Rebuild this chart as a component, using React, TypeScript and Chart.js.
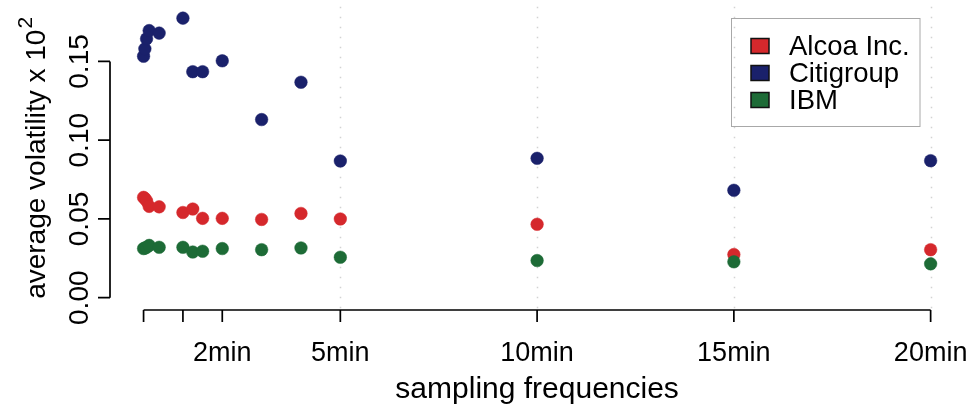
import React, { useEffect, useRef } from "react";
import { Chart, registerables } from "chart.js";

Chart.register(...registerables);

// sampling frequency in minutes
const xMinutes = [0, 0.033, 0.076, 0.142, 0.396, 1, 1.25, 1.5, 2, 3, 4, 5, 10, 15, 20];
const alcoa = [0.0637, 0.063, 0.0615, 0.058, 0.0577, 0.0541, 0.0563, 0.0504, 0.0504, 0.0497, 0.0535, 0.05, 0.0466, 0.0274, 0.0305];
const citigroup = [0.1533, 0.158, 0.1644, 0.1696, 0.168, 0.1775, 0.1435, 0.1435, 0.1504, 0.1131, 0.1368, 0.0868, 0.0885, 0.0682, 0.087];
const ibm = [0.0312, 0.0315, 0.032, 0.0332, 0.032, 0.032, 0.029, 0.0295, 0.0312, 0.0305, 0.0316, 0.0257, 0.0236, 0.0228, 0.0215];

const seriesNames = ["Alcoa Inc.", "Citigroup", "IBM"];
const seriesColors = ["#D5282C", "#1A216B", "#1D6B36"];

const xTickValues = [0, 1, 2, 5, 10, 15, 20];
const xTickLabels = ["", "", "2min", "5min", "10min", "15min", "20min"];
const yTickValues = [0, 0.05, 0.1, 0.15];
const yTickLabels = ["0.00", "0.05", "0.10", "0.15"];
const gridMinutes = [5, 10, 15, 20];

const xTitle = "sampling frequencies";
const yTitleMain = "average volatility x 10";
const yTitleSup = "2";

const FONT = '"Liberation Sans", Arial, Helvetica, sans-serif';

const rAxesPlugin = {
  id: "rAxes",
  beforeDatasetsDraw(chart: any) {
    const { ctx, chartArea } = chart;
    const xs = chart.scales.x;
    ctx.save();
    ctx.strokeStyle = "#d2d2d2";
    ctx.lineWidth = 1.5;
    ctx.setLineDash([1.5, 8.5]);
    for (const g of gridMinutes) {
      const px = Math.round(xs.getPixelForValue(g)) + 0.5;
      ctx.beginPath();
      ctx.moveTo(px, chartArea.top);
      ctx.lineTo(px, chartArea.bottom);
      ctx.stroke();
    }
    ctx.restore();
  },
  afterDraw(chart: any) {
    const { ctx, chartArea } = chart;
    const xs = chart.scales.x;
    const ys = chart.scales.y;
    ctx.save();
    ctx.strokeStyle = "#000";
    ctx.fillStyle = "#000";
    ctx.lineWidth = 1.7;
    ctx.setLineDash([]);

    // x axis
    const ay = chartArea.bottom;
    ctx.beginPath();
    ctx.moveTo(xs.getPixelForValue(xTickValues[0]), ay);
    ctx.lineTo(xs.getPixelForValue(xTickValues[xTickValues.length - 1]), ay);
    for (const v of xTickValues) {
      const px = xs.getPixelForValue(v);
      ctx.moveTo(px, ay);
      ctx.lineTo(px, ay + 12);
    }
    ctx.stroke();
    ctx.font = `27px ${FONT}`;
    ctx.textAlign = "center";
    ctx.textBaseline = "alphabetic";
    xTickValues.forEach((v, i) => {
      if (xTickLabels[i]) ctx.fillText(xTickLabels[i], xs.getPixelForValue(v), 361);
    });
    ctx.font = `30px ${FONT}`;
    ctx.fillText(xTitle, (chartArea.left + chartArea.right) / 2, 398);

    // y axis
    const ax = chartArea.left;
    ctx.beginPath();
    ctx.moveTo(ax, ys.getPixelForValue(yTickValues[0]));
    ctx.lineTo(ax, ys.getPixelForValue(yTickValues[yTickValues.length - 1]));
    for (const v of yTickValues) {
      const py = ys.getPixelForValue(v);
      ctx.moveTo(ax, py);
      ctx.lineTo(ax - 12, py);
    }
    ctx.stroke();
    ctx.font = `28px ${FONT}`;
    yTickValues.forEach((v, i) => {
      ctx.save();
      ctx.translate(88, ys.getPixelForValue(v));
      ctx.rotate(-Math.PI / 2);
      ctx.textAlign = "center";
      ctx.fillText(yTickLabels[i], 0, 0);
      ctx.restore();
    });

    // y title with superscript
    ctx.save();
    ctx.translate(45, (chartArea.top + chartArea.bottom) / 2);
    ctx.rotate(-Math.PI / 2);
    ctx.textAlign = "left";
    ctx.font = `28px ${FONT}`;
    const mw = ctx.measureText(yTitleMain).width;
    ctx.font = `21px ${FONT}`;
    const sw = ctx.measureText(yTitleSup).width;
    const start = -(mw + sw) / 2;
    ctx.font = `28px ${FONT}`;
    ctx.fillText(yTitleMain, start, 0);
    ctx.font = `21px ${FONT}`;
    ctx.fillText(yTitleSup, start + mw + 1, -13);
    ctx.restore();

    // legend
    ctx.strokeStyle = "#a8a8a8";
    ctx.lineWidth = 1;
    ctx.strokeRect(731.5, 18.5, 188.5, 108);
    ctx.font = `27.5px ${FONT}`;
    ctx.textAlign = "left";
    chart.data.datasets.forEach((ds: any, i: number) => {
      const base = 55 + i * 27;
      ctx.fillStyle = ds.backgroundColor;
      ctx.fillRect(751, base - 16.5, 18, 15);
      ctx.strokeStyle = "#111";
      ctx.lineWidth = 1.5;
      ctx.strokeRect(751, base - 16.5, 18, 15);
      ctx.fillStyle = "#000";
      ctx.fillText(ds.label, 789, base);
    });
    ctx.restore();
  },
};

export default function App() {
  const ref = useRef<HTMLCanvasElement | null>(null);
  useEffect(() => {
    if (!ref.current) return;
    const series = [alcoa, citigroup, ibm];
    const orders = [2, 1, 0];
    const chart = new Chart(ref.current, {
      type: "scatter",
      data: {
        datasets: series.map((vals, i) => ({
          label: seriesNames[i],
          data: xMinutes.map((x, j) => ({ x, y: vals[j] })),
          backgroundColor: seriesColors[i],
          borderColor: seriesColors[i],
          pointRadius: 6.3,
          pointBorderWidth: 0.5,
          order: orders[i],
        })),
      },
      options: {
        animation: false,
        responsive: false,
        devicePixelRatio: 1,
        layout: { padding: { left: 110, right: 6, top: 2, bottom: 97 } },
        scales: {
          x: { type: "linear", min: -0.853, max: 20.853, display: false },
          y: { type: "linear", min: -0.0078, max: 0.1847, display: false },
        },
        plugins: { legend: { display: false }, tooltip: { enabled: false } },
      },
      plugins: [rAxesPlugin],
    });
    return () => chart.destroy();
  }, []);
  return (
    <div style={{ position: "absolute", left: 0, top: 0, width: 971, height: 407, background: "#fff" }}>
      <canvas ref={ref} width={971} height={407} style={{ width: 971, height: 407 }} />
    </div>
  );
}
